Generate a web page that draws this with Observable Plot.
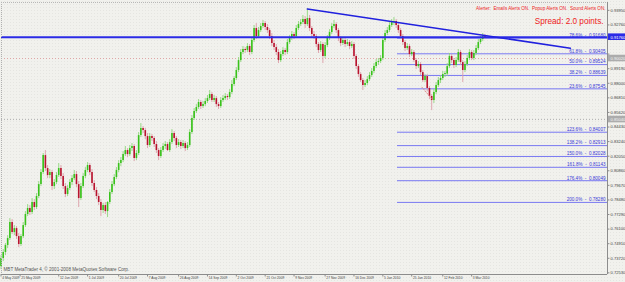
<!DOCTYPE html>
<html><head><meta charset="utf-8">
<script src="https://cdn.jsdelivr.net/npm/d3@7"></script>
<script src="https://cdn.jsdelivr.net/npm/@observablehq/plot@0.6"></script>
<style>html,body{margin:0;padding:0;background:#f1f1ed;} svg{display:block}</style>
</head><body><div id="chart"></div>
<script>
const open = [
.7304,.7370,.7419,.7476,.7533,.7664,.7582,.7614,.7549,.7484,
.7549,.7639,.7729,.7778,.7745,.7827,.7786,.7876,.7973,.8071,
.8210,.8104,.8047,.8071,.7957,.7990,.8047,.8104,.8039,.7957,
.7892,.7941,.7990,.8022,.8055,.7973,.7859,.7957,.8039,.8088,
.8129,.8071,.7982,.7925,.7876,.7827,.7761,.7802,.7753,.7827,
.7908,.7973,.8031,.8088,.8145,.8169,.8218,.8251,.8218,.8267,
.8284,.8186,.8227,.8373,.8431,.8414,.8365,.8292,.8365,.8349,
.8300,.8251,.8202,.8251,.8284,.8300,.8251,.8316,.8390,.8349,
.8292,.8316,.8284,.8308,.8267,.8292,.8398,.8512,.8569,.8602,
.8643,.8610,.8626,.8651,.8675,.8708,.8659,.8675,.8626,.8610,
.8659,.8675,.8692,.8683,.8724,.8790,.8839,.8904,.8985,.9051,
.9075,.9067,.9100,.9051,.9149,.9247,.9181,.9230,.9263,.9287,
.9255,.9230,.9181,.9124,.9091,.9051,.8985,.9034,.9067,.9051,
.9132,.9165,.9198,.9181,.9247,.9279,.9295,.9320,.9279,.9328,
.9247,.9198,.9181,.9116,.9067,.9116,.9018,.9108,.9165,.9214,
.9263,.9279,.9230,.9165,.9124,.9149,.9116,.9132,.9100,.9116,
.9018,.8936,.8871,.8822,.8781,.8798,.8830,.8863,.8896,.8936,
.8969,.8977,.9002,.9149,.9206,.9230,.9271,.9295,.9304,.9271,
.9230,.9181,.9132,.9083,.9100,.9034,.9051,.8985,.8936,.8953,
.8887,.8822,.8855,.8757,.8692,.8659,.8724,.8781,.8822,.8839,
.8871,.8875,.8936,.9018,.8985,.8945,.8985,.9051,.8969,.8904,
.8953,.9002,.9051,.9002,.9043,.9083,.9132,.9157,.9181];
const high = [
.7394,.7443,.7492,.7557,.7696,.7688,.7639,.7631,.7574,.7566,
.7664,.7753,.7810,.7802,.7859,.7851,.7900,.7998,.8096,.8227,
.8251,.8129,.8096,.8088,.8014,.8071,.8145,.8129,.8063,.7982,
.7965,.8014,.8047,.8088,.8080,.7998,.7982,.8063,.8112,.8153,
.8145,.8096,.8006,.7949,.7900,.7851,.7819,.7827,.7835,.7933,
.7998,.8055,.8112,.8169,.8194,.8243,.8284,.8267,.8292,.8308,
.8300,.8251,.8398,.8471,.8447,.8431,.8390,.8390,.8382,.8365,
.8324,.8267,.8276,.8308,.8324,.8316,.8341,.8422,.8406,.8365,
.8341,.8333,.8333,.8324,.8316,.8422,.8537,.8594,.8626,.8667,
.8659,.8651,.8675,.8700,.8741,.8724,.8700,.8692,.8643,.8683,
.8700,.8716,.8708,.8749,.8822,.8855,.8928,.9010,.9075,.9100,
.9091,.9124,.9116,.9173,.9271,.9287,.9255,.9287,.9312,.9304,
.9279,.9247,.9206,.9149,.9116,.9075,.9059,.9091,.9083,.9157,
.9189,.9222,.9214,.9271,.9304,.9320,.9353,.9344,.9406,.9353,
.9263,.9222,.9198,.9132,.9140,.9132,.9132,.9189,.9238,.9287,
.9312,.9295,.9247,.9181,.9173,.9165,.9157,.9149,.9140,.9132,
.9034,.8953,.8887,.8839,.8822,.8855,.8887,.8920,.8961,.8994,
.9002,.9026,.9173,.9230,.9255,.9295,.9320,.9336,.9320,.9287,
.9247,.9198,.9149,.9124,.9116,.9075,.9067,.9002,.8977,.8969,
.8904,.8871,.8871,.8773,.8708,.8749,.8806,.8847,.8863,.8896,
.8896,.8961,.9043,.9034,.9002,.9010,.9075,.9067,.8985,.8977,
.9026,.9075,.9067,.9067,.9108,.9157,.9181,.9206,.9198];
const low = [
.7280,.7345,.7394,.7451,.7517,.7566,.7557,.7525,.7459,.7468,
.7533,.7623,.7712,.7721,.7729,.7761,.7770,.7859,.7957,.8055,
.8080,.8022,.8022,.7925,.7933,.7973,.8031,.8014,.7933,.7867,
.7876,.7925,.7965,.8006,.7949,.7786,.7843,.7941,.8022,.8071,
.8047,.7957,.7908,.7851,.7802,.7712,.7737,.7729,.7704,.7810,
.7892,.7957,.8014,.8071,.8120,.8153,.8202,.8194,.8202,.8243,
.8161,.8169,.8210,.8357,.8390,.8341,.8267,.8276,.8324,.8276,
.8227,.8169,.8186,.8235,.8259,.8243,.8235,.8300,.8324,.8267,
.8276,.8259,.8267,.8243,.8251,.8276,.8382,.8496,.8553,.8586,
.8586,.8594,.8610,.8635,.8659,.8643,.8643,.8602,.8586,.8594,
.8643,.8659,.8659,.8667,.8708,.8773,.8822,.8887,.8969,.9034,
.9043,.9051,.9026,.9034,.9132,.9157,.9165,.9214,.9247,.9230,
.9206,.9157,.9100,.9067,.9026,.8961,.8969,.9018,.9026,.9034,
.9116,.9149,.9157,.9165,.9230,.9263,.9279,.9247,.9263,.9222,
.9173,.9157,.9091,.9043,.9051,.8961,.9002,.9091,.9149,.9198,
.9247,.9206,.9140,.9100,.9108,.9091,.9100,.9075,.9083,.8994,
.8912,.8847,.8806,.8741,.8765,.8781,.8814,.8847,.8879,.8920,
.8945,.8961,.8985,.9132,.9189,.9214,.9255,.9271,.9247,.9206,
.9157,.9108,.9059,.9067,.9010,.9018,.8969,.8912,.8920,.8863,
.8806,.8806,.8732,.8667,.8577,.8635,.8708,.8765,.8798,.8822,
.8847,.8855,.8920,.8961,.8920,.8928,.8969,.8945,.8806,.8887,
.8936,.8985,.8985,.8985,.9026,.9067,.9116,.9140,.9157];
const close = [
.7370,.7419,.7476,.7533,.7664,.7582,.7614,.7549,.7484,.7549,
.7639,.7729,.7778,.7745,.7827,.7786,.7876,.7973,.8071,.8210,
.8104,.8047,.8071,.7957,.7990,.8047,.8104,.8039,.7957,.7892,
.7941,.7990,.8022,.8055,.7973,.7859,.7957,.8039,.8088,.8129,
.8071,.7982,.7925,.7876,.7827,.7761,.7802,.7753,.7827,.7908,
.7973,.8031,.8088,.8145,.8169,.8218,.8251,.8218,.8267,.8284,
.8186,.8227,.8373,.8431,.8414,.8365,.8292,.8365,.8349,.8300,
.8251,.8202,.8251,.8284,.8300,.8251,.8316,.8390,.8349,.8292,
.8316,.8284,.8308,.8267,.8292,.8398,.8512,.8569,.8602,.8643,
.8610,.8626,.8651,.8675,.8708,.8659,.8675,.8626,.8610,.8659,
.8675,.8692,.8683,.8724,.8790,.8839,.8904,.8985,.9051,.9075,
.9067,.9100,.9051,.9149,.9247,.9181,.9230,.9263,.9287,.9255,
.9230,.9181,.9124,.9091,.9051,.8985,.9034,.9067,.9051,.9132,
.9165,.9198,.9181,.9247,.9279,.9295,.9320,.9279,.9328,.9247,
.9198,.9181,.9116,.9067,.9116,.9018,.9108,.9165,.9214,.9263,
.9279,.9230,.9165,.9124,.9149,.9116,.9132,.9100,.9116,.9018,
.8936,.8871,.8822,.8781,.8798,.8830,.8863,.8896,.8936,.8969,
.8977,.9002,.9149,.9206,.9230,.9271,.9295,.9304,.9271,.9230,
.9181,.9132,.9083,.9100,.9034,.9051,.8985,.8936,.8953,.8887,
.8822,.8855,.8757,.8692,.8659,.8724,.8781,.8822,.8839,.8871,
.8875,.8936,.9018,.8985,.8945,.8985,.9051,.8969,.8904,.8953,
.9002,.9051,.9002,.9043,.9083,.9132,.9157,.9181,.9176];

const dateLabels = ["4 May 2009","25 May 2009","12 Jun 2009","1 Jul 2009","20 Jul 2009","7 Aug 2009","26 Aug 2009","14 Sep 2009","2 Oct 2009","21 Oct 2009","9 Nov 2009","27 Nov 2009","16 Dec 2009","5 Jan 2010","25 Jan 2010","12 Feb 2010","3 Mar 2010"];
const dateBars = [0, 8.6, 26, 39, 53, 66, 80, 93, 106, 119, 132, 146, 159, 172, 185, 199, 212];
const priceTicks = [0.72530,0.73720,0.74910,0.76100,0.77290,0.78480,0.79670,0.80860,0.82050,0.83240,0.84430,0.85620,0.86810,0.88000,0.89190,0.90380,0.91570,0.92760,0.93950];
const fibPct = ["78.6","61.8","50.0","38.2","23.6","123.6","138.2","150.0","161.8","176.4","200.0"];
const fibValue = [0.91680,0.90405,0.89524,0.88639,0.87545,0.84007,0.82913,0.82028,0.81143,0.80049,0.78280];
const fibStartBar = 178.6;
const fibBaseBars = [189.6, 194.1];
const fibBasePrices = [0.8768, 0.8673];
const trendBars = [138, 256.5];
const trendPrices = [0.9406, 0.9086];
const bidPrice = 0.9176;
const hLineValues = [0.9002, 0.8504];
const alertText = "Alerter:  Emails Alerts ON.  Popup Alerts ON.  Sound Alerts ON.";
const spreadText = "Spread: 2.0 points.";
const copyText = "MBT MetaTrader 4, \u00A9 2001-2008 MetaQuotes Software Corp.";

const X0 = 0.225, X1 = 273.2, Y0 = 0.72396, Y1 = 0.94591;
const pY = (Y1 - Y0) / 272;
const hLineColors = ["#dfa5a5", "#b4b4b4"];
const bars = close.map((c, i) => ({i, o: open[i], h: high[i], l: low[i], c, up: c >= open[i]}));
const fib = fibValue.map((v, k) => ({v, t: `${fibPct[k]}%  -  ${v.toFixed(5)}`}));
const trend = trendBars.map((b, k) => ({b, p: trendPrices[k]}));
const fibBase = fibBaseBars.map((b, k) => ({b, p: fibBasePrices[k]}));
const dates = dateBars.map((b, k) => ({b, t: dateLabels[k]}));
const boxed = [bidPrice, ...hLineValues];
const tickLabels = priceTicks.filter(v => boxed.every(b => Math.abs(b - v) > 5 * pY));
const F = "Liberation Sans, Arial, sans-serif";

const chart = Plot.plot({
  width: 625, height: 282,
  marginLeft: 1, marginRight: 18, marginTop: 2, marginBottom: 8,
  x: {domain: [X0, X1], axis: null},
  y: {domain: [Y0, Y1], axis: null},
  style: {background: "#f1f1ed", fontFamily: F},
  marks: [
    Plot.ruleY(hLineValues, {y: d => d, stroke: (d, i) => hLineColors[i], strokeDasharray: "1,2", strokeWidth: 1}),
    Plot.ruleY(fib, {y: "v", x1: fibStartBar, x2: X1, stroke: "#7878f2", strokeWidth: 1}),
    Plot.text(fib, {y: "v", x: 272.3, text: "t", textAnchor: "end", dy: -2.6, fontSize: 4.6, fill: "#3a3ad8"}),
    Plot.ruleX(bars, {x: "i", y1: "l", y2: "h", stroke: d => d.up ? "#8fd67c" : "#dc9ea8", strokeWidth: 0.9}),
    Plot.ruleX(bars, {x: "i", y1: "o", y2: d => Math.abs(d.c - d.o) < pY * 0.8 ? d.o + (d.up ? pY : -pY) : d.c, stroke: d => d.up ? "#38c21a" : "#b8132e", strokeWidth: 1.6}),
    Plot.line(fibBase, {x: "b", y: "p", stroke: "#e08a8a", strokeDasharray: "1,1.5", strokeWidth: 1}),
    Plot.ruleY([bidPrice], {y: d => d, stroke: "#2b2be6", strokeWidth: 2}),
    Plot.line(trend, {x: "b", y: "p", stroke: "#2020de", strokeWidth: 1.6}),
    Plot.ruleX([X0], {stroke: "#b0b0b0", strokeDasharray: "1,1"}),
    Plot.ruleY([Y1], {stroke: "#b8b8b8", strokeDasharray: "1,1"}),
    Plot.ruleX([X1], {stroke: "#8c8c8c"}),
    Plot.ruleY([Y0], {stroke: "#8c8c8c"}),
    Plot.ruleY(priceTicks, {y: d => d, x1: X1, x2: X1 + 1.1, stroke: "#8c8c8c"}),
    Plot.text(tickLabels, {y: d => d, frameAnchor: "right", dx: 3, textAnchor: "start", text: d => d.toFixed(5), fontSize: 4.1, fill: "#444"}),
    Plot.rect(hLineValues, {x1: X1 + 0.4, x2: X1 + 8.2, y1: d => d - 3.3 * pY, y2: d => d + 3.3 * pY, fill: "#acacac"}),
    Plot.text(hLineValues, {y: d => d, frameAnchor: "right", dx: 3, textAnchor: "start", text: d => d.toFixed(5), fontSize: 4.1, fill: "#f4f4f4"}),
    Plot.rect([bidPrice], {x1: X1 + 0.4, x2: X1 + 8.2, y1: d => d - 3.3 * pY, y2: d => d + 3.3 * pY, fill: "#2b2be6"}),
    Plot.text([bidPrice], {y: d => d, frameAnchor: "right", dx: 3, textAnchor: "start", text: d => d.toFixed(5), fontSize: 4.1, fill: "#ffffff"}),
    Plot.ruleX(dates, {x: "b", y1: Y0, y2: Y0 - 2.5 * pY, stroke: "#8c8c8c"}),
    Plot.text(dates, {x: "b", frameAnchor: "bottom", dy: 4.6, dx: 1.2, textAnchor: "start", text: "t", fontSize: 3.3, fill: "#444"}),
    Plot.text([alertText], {frameAnchor: "top-right", dx: -2, dy: 4.2, textAnchor: "end", text: d => d, fontSize: 4.6, fill: "#ee2222"}),
    Plot.text([spreadText], {frameAnchor: "top-right", dx: -4, dy: 15.5, textAnchor: "end", text: d => d, fontSize: 8.2, fill: "#ee1a1a"}),
    Plot.text([copyText], {frameAnchor: "bottom-left", dx: 2, dy: -4, textAnchor: "start", text: d => d, fontSize: 4.6, fill: "#555"})
  ]
});
// subtle dotted chart background like the reference
const svg = d3.select(chart);
const defs = svg.insert("defs", ":first-child");
const pat = defs.append("pattern").attr("id", "mtdots").attr("width", 3).attr("height", 3).attr("patternUnits", "userSpaceOnUse");
pat.append("rect").attr("x", 1).attr("y", 1).attr("width", 1).attr("height", 1).attr("fill", "#dcdcd7");
svg.insert("rect", "defs + *").attr("x", 0).attr("y", 0).attr("width", 625).attr("height", 282).attr("fill", "url(#mtdots)").attr("opacity", 0.55);
document.getElementById("chart").appendChild(chart);
</script>
</body></html>
